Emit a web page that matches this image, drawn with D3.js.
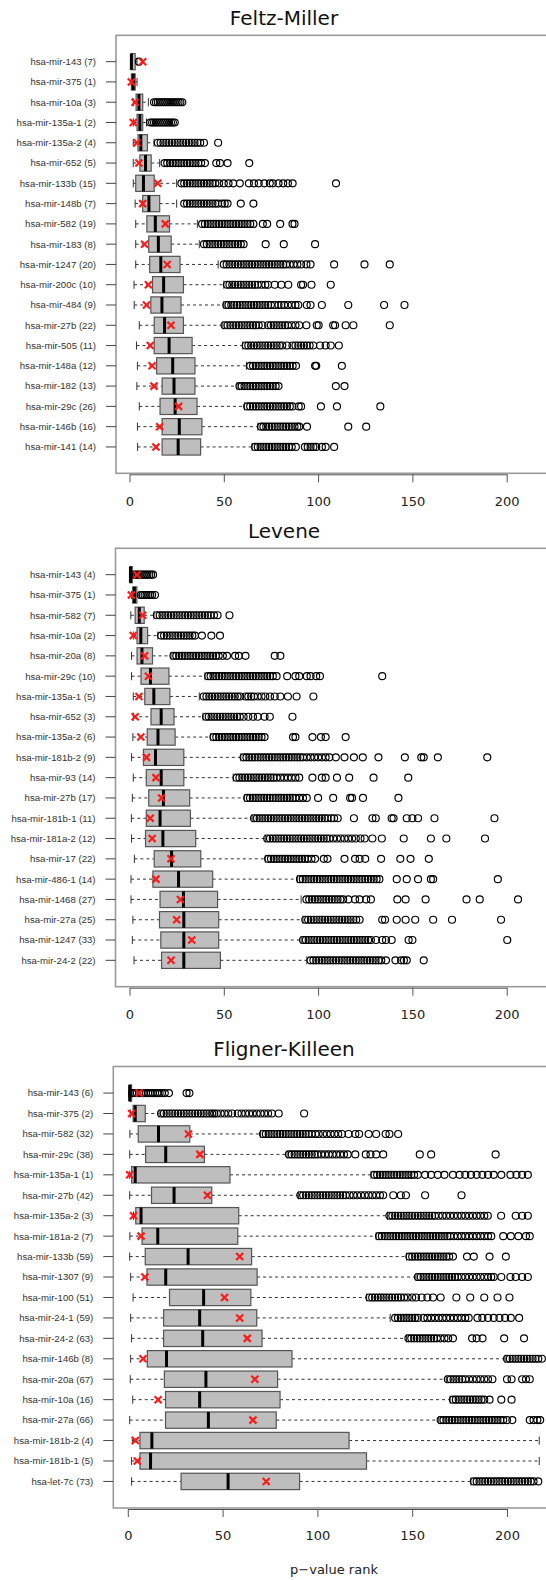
<!DOCTYPE html>
<html>
<head>
<meta charset="utf-8">
<script src="https://cdn.jsdelivr.net/npm/d3@7"></script>
<style>
  html, body { margin: 0; padding: 0; background: #fff; }
  svg { display: block; }
</style>
</head>
<body>
<svg id="chart" width="546" height="1580"></svg>
<script>
// ---------------- Data ----------------
const tickValues = [0, 50, 100, 150, 200];
const xAxisTitle = "p\u2212value rank";

// Feltz-Miller
const fmTitle = "Feltz-Miller";
const fmLabels = ["hsa-mir-143 (7)","hsa-mir-375 (1)","hsa-mir-10a (3)","hsa-mir-135a-1 (2)","hsa-mir-135a-2 (4)","hsa-mir-652 (5)","hsa-mir-133b (15)","hsa-mir-148b (7)","hsa-mir-582 (19)","hsa-mir-183 (8)","hsa-mir-1247 (20)","hsa-mir-200c (10)","hsa-mir-484 (9)","hsa-mir-27b (22)","hsa-mir-505 (11)","hsa-mir-148a (12)","hsa-mir-182 (13)","hsa-mir-29c (26)","hsa-mir-146b (16)","hsa-mir-141 (14)"];
const fmRanks = [7,1,3,2,4,5,15,7,19,8,20,10,9,22,11,12,13,26,16,14];
const fmLo  = [1,1,2,2,2,2,2,3,3.3,3.3,3.3,2.4,2.5,5.2,3.7,4.2,3.9,5.2,4.2,4.3];
const fmQ1  = [1,1,3.5,4,4.5,5.5,3.3,7,9.2,10.2,10.7,12.2,11.3,13.1,13.1,14.4,17.3,16.2,17.3,17.3];
const fmMed = [1,2,5,5.5,6,8.5,7.4,10.3,13.7,15.3,16.6,18.1,17.2,18.6,21,22.9,23.6,24.2,26.4,25.8];
const fmQ3  = [3,3,7,7,9.5,11.5,13.1,16,21.2,22.1,26.8,28.6,27.3,28.6,33.2,34.7,34.7,35.8,38.4,37.7];
const fmHi  = [4,4,10,9,13,16,25,25,36,37,47,50,50,49.5,60,62,57,61,68,65];
const fmOut = [
  [5],
  [],
  [13,14,15,16,17,18,19,20,21,22,23,24,25,26,27,28],
  [11,12,13,14,15,16,17,18,19,20,21,22,23,24],
  [15,16.5,18,19.5,21,22.5,24,25.5,27,28.5,30,31.5,33,34.5,36,37.5,39.5,47],
  [18.6,20,21.5,23,24.5,26,27.5,29,30.5,32,33.5,35,36.5,38,40,46,48,52,63.5],
  [27.5,29,30.5,32,33.5,35,36.5,38,39.5,41,42.5,44,45.5,47.5,50,52.5,55,58.5,63.3,66,68.5,71.5,74.4,76,79,81.5,84,86.5,109.5],
  [29,30.5,32,33.5,35,36.5,38,39.5,41,42.5,44,45.5,47,49,50.5,52,59,65.7],
  [38.5,40,41.5,43,44.5,46,47.5,49,50.5,52,53.5,55,56.5,58,59.5,61,62.5,64,65.7,70.7,73,79.9,86.4,87.5],
  [39.5,41,42.5,44,45.5,47,48.5,50,51.5,53,54.5,56,57.5,59,60.5,72.2,81.8,98.4],
  [50,51.5,53,54.5,56,57.5,59,60.5,62,63.5,65,66.5,68,69.5,71,72.5,74,75.5,77,78.5,80,81.5,83,85,87,89,91,93.8,96,108.5,124.6,138],
  [51.7,53,54.5,56,57.5,59,60.5,62,63.5,65,66.5,68,70,72,73.5,77,80.5,84.2,91,92,96.5,106.7],
  [51.3,52.5,54,55.5,57,58.5,60,61.5,63,64.5,66,67.5,69,70.5,72,73.5,75,77,79,80.5,82,84,86,88,89.5,94,96,102,116,135,145.8],
  [50.4,52,53.5,55,56.5,58,59.5,61,62.5,64,65.5,67,68.5,70.5,73.5,75,76.5,78,79.5,81,82.5,84,86,88,90,93.8,99.3,100.3,108,109,114.6,118.7,138],
  [61.6,63,64.5,66,67.5,69,70.5,72,73.5,75,76.5,78,79.5,81,83.5,86.4,88,89.5,91,92.5,94,95.5,97.4,101,104,106.7,111],
  [64,65.5,67,68.5,70,71.5,73,74.5,76,77.5,79,80.5,82,83.5,85,86.5,88.3,98.4,99,112.6],
  [58.3,59.5,61,62.5,64,65.5,67,68.5,70,71.5,73,74.5,76,77.5,79,109.4,114],
  [62.4,64,65.5,67,68.5,70,71.5,73,74.5,76,77.5,79,80.5,82,83.5,85,86.4,89.7,91,101.5,110,133],
  [69.8,71,72.5,74,75.5,77,78.5,80,81.5,83,84.5,86,87.5,89,90,94.1,116,125.5],
  [66.6,68,69.5,71,72.5,74,75.5,77,78.5,80,81.5,83,84.5,86,88.2,93,94.5,96,97.5,99,102,104,108.5]
];

// Levene
const lvTitle = "Levene";
const lvLabels = ["hsa-mir-143 (4)","hsa-mir-375 (1)","hsa-mir-582 (7)","hsa-mir-10a (2)","hsa-mir-20a (8)","hsa-mir-29c (10)","hsa-mir-135a-1 (5)","hsa-mir-652 (3)","hsa-mir-135a-2 (6)","hsa-mir-181b-2 (9)","hsa-mir-93 (14)","hsa-mir-27b (17)","hsa-mir-181b-1 (11)","hsa-mir-181a-2 (12)","hsa-mir-17 (22)","hsa-mir-486-1 (14)","hsa-mir-1468 (27)","hsa-mir-27a (25)","hsa-mir-1247 (33)","hsa-mir-24-2 (22)"];
const lvRanks = [4,1,7,2,8,10,5,3,6,9,14,17,11,12,22,14,27,25,33,22];
const lvLo  = [0,1,0.7,2,1.1,1.1,2,2,1.8,1.1,2,1.5,1,1.1,2.6,0.8,0.8,1.8,1.5,2.4];
const lvQ1  = [0.2,1.7,3,4,4,6.1,8.1,11.4,9.4,7.4,8.9,10.2,8.9,8.5,13.1,12.4,16.2,15.9,16.6,17];
const lvMed = [0.5,2.6,5.2,6,6.6,11.1,12.9,16.8,15.1,13.8,16.8,18,16.2,17.7,22.3,26,28.6,28.8,28.8,28.8];
const lvQ3  = [1.5,3.9,7.8,9.6,12.2,20.9,21.4,23.6,24.2,28.8,28.8,31.9,32.3,35.1,37.8,44.1,46.7,47.3,47.3,48.2];
const lvHi  = [2,5,13,15,22,40,37,39,43,59,55,61,65,72,72,89,91,92,91,94];
const lvOut = [
  [2.5,3.5,4.5,5.5,6.5,7.5,8.5,9.5,10.5,11.5,12.5],
  [6,7,8,9,10,11,12,13.5],
  [14.5,16,17.5,19,20.5,22,23.5,25,26.5,28,29.5,31,32.5,34,35.5,37,38.5,40,41.5,43,44.8,46.7,53],
  [16.8,18.3,19.8,21.3,22.8,24.3,25.8,27.3,28.8,30.3,31.8,33.3,34.7,38.4,43.4,48],
  [23.3,24.8,26.3,27.8,29.3,30.8,32.3,33.8,35.3,36.8,38.3,39.8,41.3,42.8,44.3,45.8,47.3,49.5,51.7,56,58,61.5,77,80],
  [41.7,43,44.5,46,47.5,49,50.5,52,53.5,55,56.5,58,59.5,61,62.5,64,65.5,67,68.5,70,71.5,73,74.5,76,78,83.6,88,90,94,96,99,101,134],
  [39.3,40.8,42.3,43.8,45.3,46.8,48.3,49.8,51.3,52.8,54.3,55.8,57.3,58.7,61.5,63,64.5,66,68,70,72,74.5,77,80,84,88.6,97.5],
  [40.6,42,43.5,45,46.5,48,49.5,51,52.5,54,55.5,57,58.5,60.5,63,65.5,68,71.6,74.4,86.4],
  [44.5,46,47.5,49,50.5,52,53.5,55,56.5,58,59.5,61,62.5,64,65.5,67,68.5,70,71.6,86.7,88,97,101.5,104,114.6],
  [60.5,62,63.5,65,66.5,68,69.5,71,72.5,74,75.5,77,78.5,80,81.5,83,84.5,86,87.5,89,90.5,92,94,96,98,100,102,104,106,109.4,114,119,123.7,132,146,154.7,156,163.5,189.7],
  [56.8,58.3,59.8,61.3,62.8,64.3,65.8,67.3,68.8,70.3,71.8,73.3,74.8,76.3,78,80,82,84,86,88,90,97,102,104,110,116.5,129.4,147.8],
  [62.4,63.9,65.4,66.9,68.4,69.9,71.4,72.9,74.4,76,77.5,79,80.5,82,83.5,85,86.5,88,90,92,94,100,108,117,118,123.8,142.6],
  [66,67.5,69,70.5,72,73.5,75,76.5,78,79.5,81,82.5,84,85.5,87,88.5,90,91.5,93,94.5,96,97.5,99,100.5,102,103.5,105,107,108.5,110.4,119,128.8,130.6,139,140,147,150,153,161.7,193.5],
  [73,74.5,76,77.5,79,80.5,82,83.5,85,86.5,88,89.5,91,92.5,94,95.5,97,98.5,100,101.5,103,104.5,106,108,110,112,114,116,118,120,122.5,124.7,128.8,133.8,145.4,159.8,168,188.5],
  [73.5,75,76.5,78,79.5,81,82.5,84,85.5,87,88.5,90,91.5,93,94.5,96.5,98.4,103,105,114,119.6,122,125,133.4,143.6,149,158.7],
  [90.4,91.9,93.4,94.9,96.4,97.9,99.4,100.9,102.4,103.9,105.4,106.9,108.4,109.9,111.4,112.9,114.4,115.9,117.4,118.9,120.4,121.9,123.4,125,126.5,128,129.5,131,132.5,141.7,147,153,159.8,161,195.3],
  [93.8,95.3,96.8,98.3,99.8,101.3,102.8,104.3,105.8,107.3,108.8,110.3,111.8,113.3,116,119.6,122,125.5,128,142,146.4,157,178.7,185.7,206],
  [93.2,94.7,96.2,97.7,99.2,100.7,102.2,103.7,105.2,106.7,108.2,109.7,111.2,112.7,114.2,115.7,117.2,118.7,120.2,122,134,135.5,141.7,146.4,151.5,161,171,197],
  [92,93.5,95,96.5,98,99.5,101,102.5,104,105.5,107,108.5,110,111.5,113,114.5,116,117.5,119,120.5,122,123.5,125,126.5,128,130.7,134,136,139,148,150,200.3],
  [96,97.5,99,100.5,102,103.5,105,106.5,108,109.5,111,112.5,114,115.5,117,118.5,120,121.5,123,124.5,126,127.5,129,130.5,132,133.5,136,141,144,145.5,147,156]
];

// Fligner-Killeen
const fkTitle = "Fligner-Killeen";
const fkLabels = ["hsa-mir-143 (6)","hsa-mir-375 (2)","hsa-mir-582 (32)","hsa-mir-29c (38)","hsa-mir-135a-1 (1)","hsa-mir-27b (42)","hsa-mir-135a-2 (3)","hsa-mir-181a-2 (7)","hsa-mir-133b (59)","hsa-mir-1307 (9)","hsa-mir-100 (51)","hsa-mir-24-1 (59)","hsa-mir-24-2 (63)","hsa-mir-146b (8)","hsa-mir-20a (67)","hsa-mir-10a (16)","hsa-mir-27a (66)","hsa-mir-181b-2 (4)","hsa-mir-181b-1 (5)","hsa-let-7c (73)"];
const fkRanks = [6,2,32,38,1,42,3,7,59,9,51,59,63,8,67,16,66,4,5,73];
const fkLo  = [0.5,1.5,1.1,1,1,1,3,1.1,1,1.5,2.8,1.5,2,1.5,1.3,2.6,1,2.4,2,2];
const fkQ1  = [0.8,2.8,5.5,9.4,2,12.5,4.2,7.5,9.2,10.1,22,18.9,18.9,10.3,19.3,19.9,19.9,6.4,6.4,28.1];
const fkMed = [1,3.9,16.2,20,3.9,24.4,7,15.8,31.8,20,40,37.9,39.5,20.4,41.2,37.9,42.5,12.7,12,52.9];
const fkQ3  = [2,9.2,32.7,40.4,53.9,44.3,58.5,58,65.3,68.2,64.9,68,70.8,86.6,79,80.3,78.3,116.7,125.9,90.6];
const fkHi  = [2.3,16.5,70,84,128.3,90,137,131,147,152,126,138.4,147,199,168,170,164,217,217,181];
const fkOut = [
  [2.4,3.6,4.8,6,7.2,8.4,9.6,10.8,12,13.2,14.4,15.6,16.8,18,19.5,21.7,31,32.5],
  [17.5,19,20.5,22,23.5,25,26.5,28,29.5,31,32.5,34,35.5,37,38.5,40,41.5,43,44.5,45.6,47,49,51,53,55,58,60,62,64,66,68,70,72,74,76,79.6,93],
  [71.3,72.8,74.3,75.8,77.3,78.8,80.3,81.8,83.3,84.8,86.3,87.8,89.3,90.8,92.3,93.8,95.3,97,99,100.7,103,105,107,109,111,113,116.4,120,122,127,131,136,138,142.6],
  [85,86.5,88,89.5,91,92.5,94,95.5,97,98.5,100,102,104,106,108,110,112,114,116,120,125.5,128,131,134.7,154,160,194],
  [130,131.5,133,134.5,136,137.5,139,140.5,142,143.5,145,146.5,148,149.5,151,153,156.8,160,163.5,167,171.5,175,178,181,184,187,190,193,197,201.8,205,208,211],
  [91,92.5,94,95.5,97,98.5,100,101.5,103,104.5,106,107.5,109,110.5,112,113.5,115,117,119,121,123,125,127,129,131,133,134.7,140,144,146.7,156.8,176],
  [138,139.5,141,142.5,144,145.5,147,148.5,150,151.5,153,154.5,156,157.5,159,160.5,162,164,166,168,170,172,174,176,178,180,182,184,186,188,189.9,196.9,204.6,208,211],
  [132.5,134,135.5,137,138.5,140,141.5,143,144.5,146,147.5,149,150.5,152,153.5,155,156.5,158,159.5,161,162.5,164,165.5,167,168.5,170,172,174,176,178,180,182,184,186,188,190,191.7,198,202,206,210,212],
  [148.5,150,151.5,153,154.5,156,157.5,159,160.5,162,163.5,165,166.5,168,169.5,171.5,178.9,182.5,190.8,199.4],
  [153,154.5,156,157.5,159,160.5,162,163.5,165,166.5,168,169.5,171,172.5,174,176,178,180,182,184,186,188,190,191.7,193,197,201.8,204.6,208,211],
  [127.4,128.9,130.4,131.9,133.4,134.9,136.4,137.9,139.4,141,142.5,144,145.8,147.6,150,152,155,158,161,165,173.3,180.6,188,195,201.3],
  [141,142.5,144,145.5,147,148.5,150,151.5,153,156,158,160,162,164,166,168,170,172,174,176,178,179.8,184.4,187,190,193,196,199,202,206.4],
  [148,149.5,151,152.5,154,155.5,157,158.5,160,161.5,163,165,167,169,171.5,181.6,184,187.1,198.5,209],
  [200,201.5,203,204.5,206,207.5,209,210.5,212,213.5,215,216.5,218.4],
  [168.8,170.3,171.8,173.3,174.8,176.3,178,180,182,184,186,188,190,192.3,200,202.4,208,210,212],
  [171.5,173,174.5,176,177.5,179,180.5,182,183.5,185,186.5,188,190.8,197,202.4],
  [165,166.5,168,169.5,171,172.5,174,175.5,177,178.5,180,181.5,183,184.5,186,187.5,189,190.5,192,193.5,195,196.5,198,200,202.8,212,214,216,217.5],
  [],
  [],
  [182.5,184,185.5,187,188.5,190,191.5,193,194.5,196,197.5,199,200.5,202,203.5,205,206.5,208,209.5,211,212.5,214,216.5]
];

// ---------------- Layout (positions/styles) ----------------
const panels = [
  { title: fmTitle, labels: fmLabels, ranks: fmRanks, lo: fmLo, q1: fmQ1, med: fmMed, q3: fmQ3, hi: fmHi, out: fmOut,
    titleY: 25, top: 35.3, bottom: 473.3, left: 116, x0: 129.5, x200: 506.7, showXTitle: false },
  { title: lvTitle, labels: lvLabels, ranks: lvRanks, lo: lvLo, q1: lvQ1, med: lvMed, q3: lvQ3, hi: lvHi, out: lvOut,
    titleY: 538, top: 548.3, bottom: 986.7, left: 115.5, x0: 129.5, x200: 506.7, showXTitle: false },
  { title: fkTitle, labels: fkLabels, ranks: fkRanks, lo: fkLo, q1: fkQ1, med: fkMed, q3: fkQ3, hi: fkHi, out: fkOut,
    titleY: 1056, top: 1066.5, bottom: 1508, left: 113.3, x0: 127.8, x200: 507, showXTitle: true }
];

const svg = d3.select("#chart");

panels.forEach(p => {
  const n = p.labels.length;
  const g = svg.append("g");
  const x = d3.scaleLinear().domain([0, 200]).range([p.x0, p.x200]);
  const y = d3.scaleLinear().domain([0.5 - 0.8, n + 0.5 + 0.8]).range([p.top, p.bottom]);
  const step = y(2) - y(1);
  const bh = step * 0.8;
  const sh = bh * 0.5;

  // title
  g.append("text")
    .attr("x", 284).attr("y", p.titleY)
    .attr("text-anchor", "middle")
    .style("font-family", "'DejaVu Sans', sans-serif")
    .style("font-size", "20px")
    .style("fill", "#111")
    .text(p.title);

  // frame (right edge lies outside the picture)
  g.append("rect")
    .attr("x", p.left).attr("y", p.top)
    .attr("width", 620 - p.left).attr("height", p.bottom - p.top)
    .attr("fill", "none").attr("stroke", "#9a9a9a").attr("stroke-width", 1.6);

  const rows = d3.range(n).map(i => ({
    i, label: p.labels[i], rank: p.ranks[i], lo: p.lo[i], q1: p.q1[i], med: p.med[i],
    q3: p.q3[i], hi: p.hi[i], out: p.out[i]
  }));

  const row = g.selectAll("g.row").data(rows).enter().append("g").attr("class", "row")
    .attr("transform", d => `translate(0,${y(d.i + 1)})`);

  // y tick + label
  row.append("line")
    .attr("x1", p.left - 10).attr("x2", p.left).attr("y1", 0).attr("y2", 0)
    .attr("stroke", "#444").attr("stroke-width", 1);
  row.append("text")
    .attr("x", p.left - 20).attr("y", 0).attr("dy", "0.35em")
    .attr("text-anchor", "end")
    .style("font-family", "'Liberation Sans', Arial, sans-serif")
    .style("font-size", "9.6px")
    .style("fill", "#333")
    .text(d => d.label);

  // whiskers
  row.append("line")
    .attr("x1", d => x(d.lo)).attr("x2", d => x(d.q1)).attr("y1", 0).attr("y2", 0)
    .attr("stroke", "#333").attr("stroke-width", 1).attr("stroke-dasharray", "3,3");
  row.append("line")
    .attr("x1", d => x(d.q3)).attr("x2", d => x(d.hi)).attr("y1", 0).attr("y2", 0)
    .attr("stroke", "#333").attr("stroke-width", 1).attr("stroke-dasharray", "3,3");
  // staples
  row.append("line")
    .attr("x1", d => x(d.lo)).attr("x2", d => x(d.lo)).attr("y1", -sh / 2).attr("y2", sh / 2)
    .attr("stroke", "#333").attr("stroke-width", 1);
  row.append("line")
    .attr("x1", d => x(d.hi)).attr("x2", d => x(d.hi)).attr("y1", -sh / 2).attr("y2", sh / 2)
    .attr("stroke", "#333").attr("stroke-width", 1);

  // box
  row.append("rect")
    .attr("x", d => x(d.q1)).attr("y", -bh / 2)
    .attr("width", d => Math.max(0.5, x(d.q3) - x(d.q1))).attr("height", bh)
    .attr("fill", "#bebebe").attr("stroke", "#555").attr("stroke-width", 1.2);
  // median
  row.append("line")
    .attr("x1", d => x(d.med)).attr("x2", d => x(d.med)).attr("y1", -bh / 2).attr("y2", bh / 2)
    .attr("stroke", "#000").attr("stroke-width", 3);

  // outliers
  row.selectAll("circle").data(d => d.out).enter().append("circle")
    .attr("cx", v => x(v)).attr("cy", 0).attr("r", 3.5)
    .attr("fill", "none").attr("stroke", "#000").attr("stroke-width", 1.15);

  // red X at the observed rank
  const xs = 3.5;
  row.append("path")
    .attr("d", d => {
      const cx = x(d.rank);
      return `M${cx - xs},${-xs}L${cx + xs},${xs}M${cx - xs},${xs}L${cx + xs},${-xs}`;
    })
    .attr("stroke", "#ff1a1a").attr("stroke-width", 2.2).attr("fill", "none");

  // x axis
  const ax = g.append("g")
    .attr("transform", `translate(0,${p.bottom + 1})`)
    .call(d3.axisBottom(x).tickValues(tickValues).tickSize(8).tickSizeOuter(0).tickPadding(14));
  ax.select(".domain").attr("stroke", "#555");
  ax.selectAll(".tick line").attr("stroke", "#555");
  ax.selectAll(".tick text")
    .style("font-family", "'DejaVu Sans', sans-serif")
    .style("font-size", "13px")
    .style("fill", "#222");

  if (p.showXTitle) {
    g.append("text")
      .attr("x", 334).attr("y", 1574)
      .attr("text-anchor", "middle")
      .style("font-family", "'DejaVu Sans', sans-serif")
      .style("font-size", "13px")
      .style("fill", "#222")
      .text(xAxisTitle);
  }
});
</script>
</body>
</html>
